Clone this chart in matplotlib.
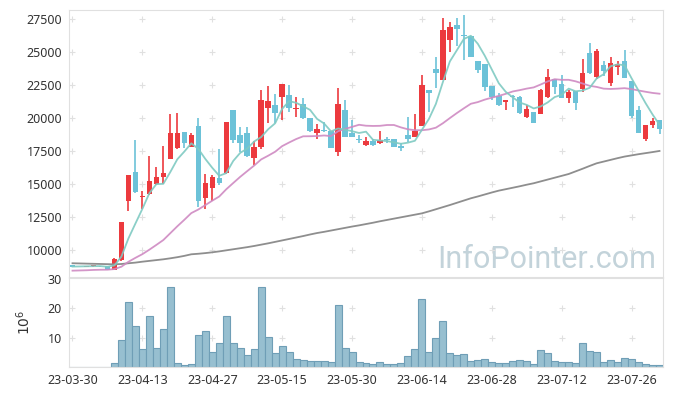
#!/usr/bin/env python3

import numpy as np
import pandas as pd
import matplotlib
matplotlib.use('Agg')
import matplotlib.pyplot as plt

plt.rcParams['font.family'] = ['Noto Sans', 'DejaVu Sans']

# trading days (KRX holidays removed)
HOLIDAYS = ['2023-05-01', '2023-05-05', '2023-05-29', '2023-06-06']
dates = pd.bdate_range('2023-03-30', '2023-08-01')
dates = dates[~dates.isin(pd.to_datetime(HOLIDAYS))]

# daily OHLC
opens = [8860, 8790, 8770, 8780, 8830, 8800, 8510, 9270, 13760, 15930,
         14060, 14270, 15050, 15580, 16950, 17780, 18960, 17860, 19420, 13930,
         14750, 15500, 15830, 20630, 18740, 18910, 16970, 17850, 20810, 21010,
         21590, 21770, 20740, 21090, 20000, 18910, 19060, 19070, 17480, 20630,
         18910, 18380, 17980, 18310, 18160, 18430, 18410, 17880, 18740, 18610,
         19420, 22150, 23710, 22900, 25930, 27070, 26260, 26240, 24370, 24120,
         22450, 21690, 21210, 21690, 21590, 20130, 20510, 20300, 21640, 22950,
         22600, 21570, 22100, 22220, 24920, 23110, 24040, 22650, 23860, 24340,
         22830, 20630, 18410, 19500, 19870]
highs = [8880, 8850, 8830, 8900, 8840, 8810, 9420, 12150, 15710, 18360,
         14500, 17150, 16340, 17900, 20330, 20430, 18990, 18880, 20000, 15750,
         15690, 17700, 19720, 20630, 19370, 19330, 18310, 22150, 22450, 21840,
         22600, 22550, 21600, 21520, 20000, 19570, 19740, 19070, 22270, 21390,
         19870, 18710, 18610, 18410, 19070, 18560, 18410, 18110, 20130, 20300,
         23280, 22150, 24670, 27580, 27270, 27570, 27830, 26240, 24370, 24120,
         22450, 21940, 21390, 21740, 21690, 21000, 20510, 22220, 23710, 22950,
         23280, 22150, 22100, 24470, 25680, 25230, 24370, 24670, 24370, 25180,
         22830, 20930, 19470, 20000, 19870]
lows = [8760, 8780, 8760, 8770, 8770, 8510, 8500, 9200, 13000, 14320,
        13110, 14170, 14950, 15050, 16900, 17700, 17780, 17800, 13310, 13110,
        13760, 14930, 15800, 18110, 17480, 17100, 16470, 17650, 19620, 19620,
        19870, 20500, 20130, 19920, 18950, 18410, 18980, 17750, 17150, 18560,
        18560, 18110, 17910, 17900, 18060, 18150, 17850, 17550, 18240, 18560,
        19420, 20500, 22270, 22900, 25050, 25480, 24420, 24670, 23400, 22100,
        21390, 20960, 20630, 20890, 20300, 20050, 19620, 20300, 21560, 21820,
        21570, 21190, 20630, 22020, 23350, 23000, 23200, 22450, 23280, 23080,
        20000, 18910, 18280, 19250, 18810]
closes = [8770, 8810, 8800, 8860, 8780, 8520, 9320, 12150, 15710, 14420,
          14100, 15250, 15580, 15830, 18900, 18910, 18160, 18720, 13750, 15090,
          15540, 15130, 19720, 18360, 18160, 17150, 17830, 21390, 21310, 20430,
          22600, 20760, 20770, 20000, 19040, 19190, 19030, 17780, 21090, 18610,
          18610, 18340, 18280, 18010, 18360, 18380, 17850, 17750, 18430, 19070,
          22530, 21950, 23460, 26690, 26890, 26770, 26220, 24670, 23660, 22350,
          21590, 21010, 21390, 21590, 20380, 20700, 19670, 22150, 23110, 22400,
          21570, 22000, 21140, 23410, 23410, 25100, 23610, 24170, 24120, 23080,
          20180, 18910, 19470, 19820, 19170]

# volume in millions of shares
volume = [0, 0, 0, 0, 0, 0, 1.35, 9.1, 22.2, 13.8,
          6.1, 17.2, 6.4, 13.1, 27.3, 1.35, 0.7, 1.0, 10.8, 12.1,
          5.2, 8.2, 17.2, 8.2, 6.4, 4.0, 6.1, 27.3, 10.1, 4.7,
          7.1, 5.1, 2.7, 2.4, 2.0, 2.0, 2.0, 1.7, 21.2, 6.4,
          5.1, 1.7, 1.35, 1.0, 1.7, 1.0, 1.0, 1.35, 3.7, 6.1,
          23.3, 5.1, 9.8, 15.8, 4.7, 4.0, 4.4, 2.0, 2.4, 2.7,
          1.7, 1.35, 1.35, 2.0, 2.4, 2.0, 1.0, 5.7, 4.7, 2.0,
          1.7, 1.7, 1.35, 8.1, 5.4, 5.1, 1.7, 2.4, 1.7, 3.0,
          2.7, 1.7, 1.0, 0.7, 0.7]

# moving-average values before a full window is available
ma5_head = [8770, 8780, 8790, 8800]
ma20_head = [8460, 8475, 8490, 8515, 8530, 8535, 8580, 8760, 9130, 9430,
             9710, 10050, 10410, 10780, 11300, 11820, 12310, 12820, 13090]
# long moving average (grey line)
ma_long = [9020, 9007, 8993, 8980, 8967, 8953, 8940,
           8965, 9020, 9070, 9140,
           9200, 9260, 9320, 9396,
           9480, 9580, 9700, 9740, 9790, 9850,
           9920, 10000, 10080, 10160, 10240,
           10330, 10430, 10530, 10640, 10750,
           10860, 10970, 11080, 11200, 11310,
           11400, 11500, 11600, 11700, 11800, 11890,
           11990, 12090, 12200, 12300,
           12400, 12500, 12600, 12700, 12800,
           12950, 13110, 13270, 13430,
           13600, 13770, 13940,
           14080, 14230, 14380, 14520,
           14630, 14740, 14850, 14970, 15080,
           15220, 15360, 15500, 15640, 15780,
           15980, 16180, 16390, 16590,
           16720, 16850, 16980, 17100,
           17190, 17280, 17360, 17440, 17525]

UP = '#ec3a3e'
DOWN = '#6cc2d8'

o = np.array(opens, float)
h = np.array(highs, float)
l = np.array(lows, float)
c = np.array(closes, float)
x = np.arange(len(c))

cs = pd.Series(c)
ma5 = cs.rolling(5).mean().to_numpy()
ma5[:len(ma5_head)] = ma5_head
ma20 = cs.rolling(20).mean().to_numpy()
ma20[:len(ma20_head)] = ma20_head

fig = plt.figure(figsize=(6.73, 3.96), dpi=100)
ax = fig.add_axes([69/673, 1 - 277/396, 594/673, 267/396])
axv = fig.add_axes([69/673, 1 - 367/396, 594/673, 89/396], sharex=ax)

up = c >= o
colors = np.where(up, UP, DOWN)
body_lo = np.minimum(o, c)
body_h = np.maximum(np.abs(c - o), 60)

ax.vlines(x, l, h, colors=colors, linewidth=1.2, zorder=2)
ax.bar(x, body_h, bottom=body_lo, width=0.78, color=colors, linewidth=0, zorder=3)

ax.plot(x, ma_long, color='#8e8e8e', lw=1.3, zorder=4)
ax.plot(x, ma20, color='#cf8ac2', lw=1.3, alpha=0.9, zorder=4)
ax.plot(x, ma5, color='#7fcac2', lw=1.3, alpha=0.9, zorder=4)

axv.bar(x, volume, width=1.0, color='#97bfd0', edgecolor='#6f9eb6', linewidth=0.8, zorder=2)

ax.set_xlim(-0.5, len(c) - 0.5)
ax.set_ylim(7980, 28200)
axv.set_ylim(0, 30.3)

xt = np.arange(0, len(c), 10)
ax.set_xticks(xt)
axv.set_xticks(xt, [dates[i].strftime('%y-%m-%d') for i in xt])
ax.set_yticks(np.arange(10000, 27501, 2500))
axv.set_yticks([10, 20, 30])
plt.setp(ax.get_xticklabels(), visible=False)
axv.set_ylabel('$10^6$', fontsize=10, color='#333333', labelpad=10)

for a in (ax, axv):
    a.tick_params(length=0, labelsize=9, colors='#333333', pad=5)
    for s in a.spines.values():
        s.set_color('#e0e0e0')
    a.set_facecolor('white')

# light '+' marks where the grid lines would cross
gx, gy = np.meshgrid(xt, ax.get_yticks())
ax.scatter(gx.ravel(), gy.ravel(), marker='+', s=20, color='#e0e0e0', linewidths=0.8, zorder=1)
gx, gy = np.meshgrid(xt, [10, 20])
axv.scatter(gx.ravel(), gy.ravel(), marker='+', s=20, color='#e0e0e0', linewidths=0.8, zorder=1)

ax.text(0.988, 0.034, 'InfoPointer.com', transform=ax.transAxes, ha='right', va='baseline',
        fontsize=22, color='#c3d3da', family='Roboto', zorder=0)

fig.savefig('out.png', dpi=100)
